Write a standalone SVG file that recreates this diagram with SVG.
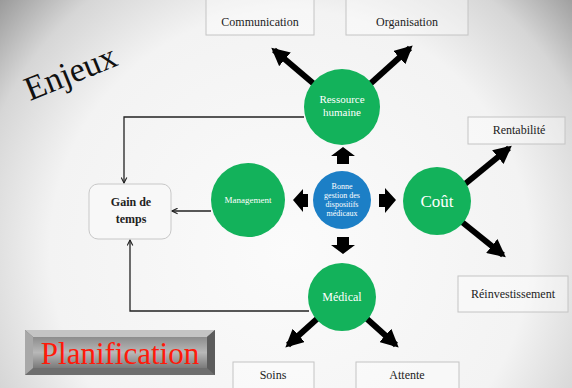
<svg xmlns="http://www.w3.org/2000/svg" width="572" height="388" viewBox="0 0 572 388">
<defs>
<radialGradient id="bg" cx="290" cy="250" r="400" gradientUnits="userSpaceOnUse">
<stop offset="0" stop-color="#fbfbfb"/>
<stop offset="0.6" stop-color="#f3f3f3"/>
<stop offset="0.8" stop-color="#d6d6d6"/>
<stop offset="1" stop-color="#8a8a8a"/>
</radialGradient>
<linearGradient id="btn" x1="0" y1="0" x2="0" y2="1">
<stop offset="0" stop-color="#8c8c8c"/>
<stop offset="0.5" stop-color="#b8b8b8"/>
<stop offset="1" stop-color="#7a7a7a"/>
</linearGradient>
<marker id="thin" viewBox="0 0 10 10" refX="9" refY="5" markerWidth="7" markerHeight="7" orient="auto" markerUnits="userSpaceOnUse">
<path d="M1,1 L9,5 L1,9" fill="none" stroke="#222" stroke-width="1.6"/>
</marker>
<marker id="thick" viewBox="0 0 10 10" refX="8" refY="5" markerWidth="3" markerHeight="3" orient="auto">
<path d="M0,0 L10,5 L0,10 z" fill="#000"/>
</marker>
</defs>
<style>
.box{fill:#ffffff;fill-opacity:0.35;stroke:#c4c4c4;stroke-width:1}
.bt{font-family:"Liberation Serif","DejaVu Serif",serif;font-size:12px;fill:#222;text-anchor:middle}
.green{fill:#13b25b}
.blue{fill:#1c7fc6}
.wt{font-family:"Liberation Serif","DejaVu Serif",serif;fill:#fff;text-anchor:middle}
.thin{fill:none;stroke:#222;stroke-width:1.3}
.thick{fill:none;stroke:#000;stroke-width:6;marker-end:url(#thick)}
.block{fill:#000}
</style>
<rect width="572" height="388" fill="url(#bg)"/>

<text transform="translate(30,101) rotate(-22)" font-family="Liberation Serif, DejaVu Serif, serif" font-size="34" fill="#111">Enjeux</text>

<g id="planification">
<rect x="25" y="330" width="190" height="45" fill="#6e6e6e"/>
<polygon points="25,330 215,330 207,337 33,337" fill="#c4c4c4"/>
<polygon points="25,330 33,337 33,368 25,375" fill="#a8a8a8"/>
<polygon points="215,330 207,337 207,368 215,375" fill="#5c5c5c"/>
<rect x="33" y="337" width="174" height="31" fill="url(#btn)"/>
<text x="120" y="364" font-family="Liberation Serif, DejaVu Serif, serif" font-size="31" fill="#ff1a0a" text-anchor="middle">Planification</text>
</g>

<g id="connectors">
<polyline class="thin" points="304,117 124,117 124,183" marker-end="url(#thin)"/>
<line class="thin" x1="211" y1="211" x2="172" y2="211" marker-end="url(#thin)"/>
<polyline class="thin" points="309,311 130,311 130,240" marker-end="url(#thin)"/>
<line class="thick" x1="314" y1="84" x2="274" y2="50"/>
<line class="thick" x1="370" y1="84" x2="410" y2="48"/>
<line class="thick" x1="465" y1="184" x2="509" y2="148"/>
<line class="thick" x1="462" y1="222" x2="503" y2="255"/>
<line class="thick" x1="318" y1="318" x2="288" y2="345"/>
<line class="thick" x1="366" y1="318" x2="396" y2="345"/>
<polygon class="block" points="343,147 355,156 349,156 349,164 337,164 337,156 331,156"/>
<polygon class="block" points="343,254 355,245 349,245 349,237 337,237 337,245 331,245"/>
<polygon class="block" points="293,200 303,189 303,194 308,194 308,207 303,207 303,212"/>
<polygon class="block" points="396,200 385,188 385,194 379,194 379,207 385,207 385,213"/>
</g>

<g id="communication"><rect class="box" x="206" y="-2" width="108" height="37"/><text class="bt" x="260" y="26">Communication</text></g>
<g id="organisation"><rect class="box" x="346" y="-2" width="122" height="37"/><text class="bt" x="407" y="26">Organisation</text></g>
<g id="rentabilite"><rect class="box" x="468" y="117" width="97" height="27"/><text class="bt" x="519" y="134">Rentabilité</text></g>
<g id="reinvestissement"><rect class="box" x="458" y="276" width="110" height="36"/><text class="bt" x="513" y="298">Réinvestissement</text></g>
<g id="soins"><rect class="box" x="233" y="362" width="81" height="30"/><text class="bt" x="273" y="379">Soins</text></g>
<g id="attente"><rect class="box" x="356" y="362" width="103" height="30"/><text class="bt" x="407" y="379">Attente</text></g>

<g id="gain"><rect x="89" y="184" width="82" height="55" rx="9" fill="#f8f8f8" stroke="#c8c8c8"/>
<text class="bt" x="131" y="206" font-weight="bold" font-size="13">Gain de</text>
<text class="bt" x="131" y="223" font-weight="bold" font-size="13">temps</text></g>

<g id="ressource"><circle class="green" cx="342" cy="107" r="38"/>
<text class="wt" x="342" y="103" font-size="11">Ressource</text>
<text class="wt" x="342" y="116" font-size="11">humaine</text></g>
<g id="management"><circle class="green" cx="248" cy="200" r="37"/>
<text class="wt" x="248" y="203" font-size="9">Management</text></g>
<g id="bonne"><circle class="blue" cx="342" cy="200" r="29"/>
<text class="wt" x="342" y="189" font-size="8">Bonne</text>
<text class="wt" x="342" y="198" font-size="8">gestion des</text>
<text class="wt" x="342" y="207" font-size="8">dispositifs</text>
<text class="wt" x="342" y="216" font-size="8">médicaux</text></g>
<g id="cout"><circle class="green" cx="437" cy="201" r="34"/>
<text class="wt" x="437" y="207" font-size="17">Coût</text></g>
<g id="medical"><circle class="green" cx="342" cy="297" r="34"/>
<text class="wt" x="342" y="301" font-size="12">Médical</text></g>
</svg>
